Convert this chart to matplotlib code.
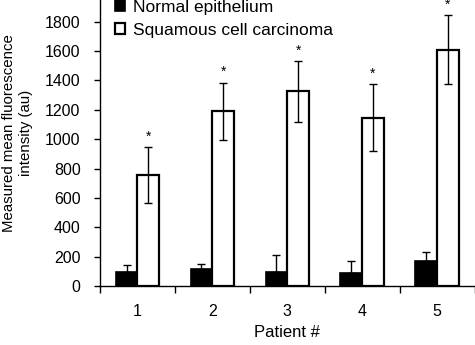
import matplotlib
matplotlib.use('Agg')
from matplotlib import pyplot as plt
import numpy as np

plt.rcParams['font.family'] = ['Liberation Sans', 'DejaVu Sans']

patients = ['1', '2', '3', '4', '5']
normal = [97, 116, 97, 88, 172]
normal_err = [48, 32, 116, 84, 62]
scc = [754, 1190, 1325, 1147, 1610]
scc_err = [192, 195, 205, 228, 235]

fig = plt.figure(figsize=(4.75, 3.45), dpi=100)
ax = fig.add_axes([100 / 475, 1 - 286 / 345, 374.5 / 475, 286 / 345])

x = np.arange(1, len(patients) + 1)
w = 0.29
ax.bar(x - w / 2, normal, w, color='black', edgecolor='black', linewidth=1.2,
       label='Normal epithelium', zorder=2)
ax.bar(x + w / 2, scc, w, color='white', edgecolor='black', linewidth=1.6,
       label='Squamous cell carcinoma', zorder=2)
ax.errorbar(x - w / 2, normal, yerr=[np.zeros(len(normal)), normal_err], fmt='none',
            ecolor='black', elinewidth=1, capsize=3.2, capthick=1, zorder=3)
ax.errorbar(x + w / 2, scc, yerr=scc_err, fmt='none',
            ecolor='black', elinewidth=1, capsize=3.2, capthick=1, zorder=3)

# significance stars above carcinoma bars
for xi, v, e in zip(x, scc, scc_err):
    ax.text(xi + w / 2, v + e + 72, '*', ha='center', va='center', fontsize=10,
            clip_on=False)

ax.set_xlim(0.5, 5.5)
ax.set_ylim(0, 1948)
ax.set_yticks(range(0, 1801, 200))
ax.set_xticks(x)
ax.set_xticklabels(patients)
ax.set_xticks(np.arange(0.5, 5.6, 1), minor=True)
ax.tick_params(axis='x', which='major', length=0, pad=13, labelsize=11.5)
ax.tick_params(axis='x', which='minor', length=5, width=1, direction='out')
ax.tick_params(axis='y', length=4, width=1, direction='out', labelsize=11.5, pad=10)
for s in ['top', 'right']:
    ax.spines[s].set_visible(False)
for s in ['left', 'bottom']:
    ax.spines[s].set_linewidth(1)
ax.set_xlabel('Patient #', fontsize=12, labelpad=4)
ax.set_ylabel('Measured mean fluorescence\nintensity (au)', fontsize=10.8,
              linespacing=1.3)
ax.yaxis.set_label_coords(-67 / 374.5, 0.535)

ax.legend(loc='upper left', bbox_to_anchor=(115 / 475, 1.0), bbox_transform=fig.transFigure,
          frameon=False, fontsize=12.5, handlelength=0.6, handleheight=0.6,
          handletextpad=0.45, labelspacing=0.45, borderpad=0, borderaxespad=0)

fig.savefig('out.png', dpi=100)
